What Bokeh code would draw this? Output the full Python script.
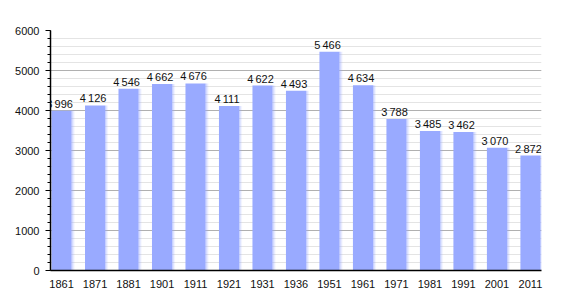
from bokeh.plotting import figure
from bokeh.models import FixedTicker, ColumnDataSource, Range1d, LabelSet
from bokeh.core.properties import value
from bokeh.embed import file_html
from bokeh.resources import INLINE

years = ["1861", "1871", "1881", "1901", "1911", "1921", "1931", "1936",
         "1951", "1961", "1971", "1981", "1991", "2001", "2011"]
population = [3996, 4126, 4546, 4662, 4676, 4111, 4622, 4493,
              5466, 4634, 3788, 3485, 3462, 3070, 2872]
y_ticks = [0, 1000, 2000, 3000, 4000, 5000, 6000]

xs = list(range(len(years)))
labels = [f"{v:,}".replace(",", "\u2009") for v in population]
src = ColumnDataSource(dict(x=xs, top=population, label=labels))

p = figure(width=570, height=300, output_backend="svg", toolbar_location=None,
           x_range=Range1d(-0.33, 14.33), y_range=Range1d(0, 6000),
           min_border_left=50, min_border_right=29, min_border_top=30,
           min_border_bottom=30)
p.outline_line_color = None
p.background_fill_color = "white"

bw = 0.6
p.vbar(x="x", top="top", width=bw, bottom=0, source=src,
       fill_color="#99aaff", line_color=None)
# soft right edge fringe
for k, a in enumerate([0.55, 0.3, 0.12]):
    off = bw / 2 + 0.015 + k * 0.03
    p.vbar(x=[x + off for x in xs], top=population, width=0.03, bottom=0,
           fill_color="#99aaff", fill_alpha=a, line_color=None)

ls = LabelSet(x="x", y="top", text="label", source=src, text_align="center",
              text_baseline="bottom", text_font=value("Liberation Sans"),
              text_font_size=value("11px"), text_color="#111111",
              x_offset=-2, y_offset=1)
p.add_layout(ls)

# axes
p.xaxis.ticker = FixedTicker(ticks=xs)
p.xaxis.major_label_overrides = {i: y for i, y in enumerate(years)}
p.xaxis.major_tick_line_color = None
p.xaxis.minor_tick_line_color = None
p.xaxis.axis_line_color = "black"
p.xaxis.axis_line_width = 1.5
p.xaxis.major_label_text_font = "Liberation Sans"
p.xaxis.major_label_text_font_size = "11px"
p.xaxis.major_label_text_color = "#111111"
p.xaxis.major_label_standoff = 3

p.yaxis.ticker = FixedTicker(ticks=y_ticks,
                             minor_ticks=list(range(0, 6001, 200)))
p.yaxis.axis_line_color = "black"
p.yaxis.axis_line_width = 1.5
p.yaxis.major_tick_in = 0
p.yaxis.major_tick_out = 5
p.yaxis.minor_tick_in = 0
p.yaxis.minor_tick_out = 3
p.yaxis.major_tick_line_color = "black"
p.yaxis.minor_tick_line_color = "black"
p.yaxis.major_label_text_font = "Liberation Sans"
p.yaxis.major_label_text_font_size = "11px"
p.yaxis.major_label_text_color = "#111111"
p.yaxis.major_label_standoff = 6

p.xgrid.grid_line_color = None
p.ygrid.grid_line_color = "#b0b0b0"
p.ygrid.minor_grid_line_color = "#e4e4e4"
p.ygrid.level = "underlay"

open("out.html", "w").write(file_html(p, INLINE))
